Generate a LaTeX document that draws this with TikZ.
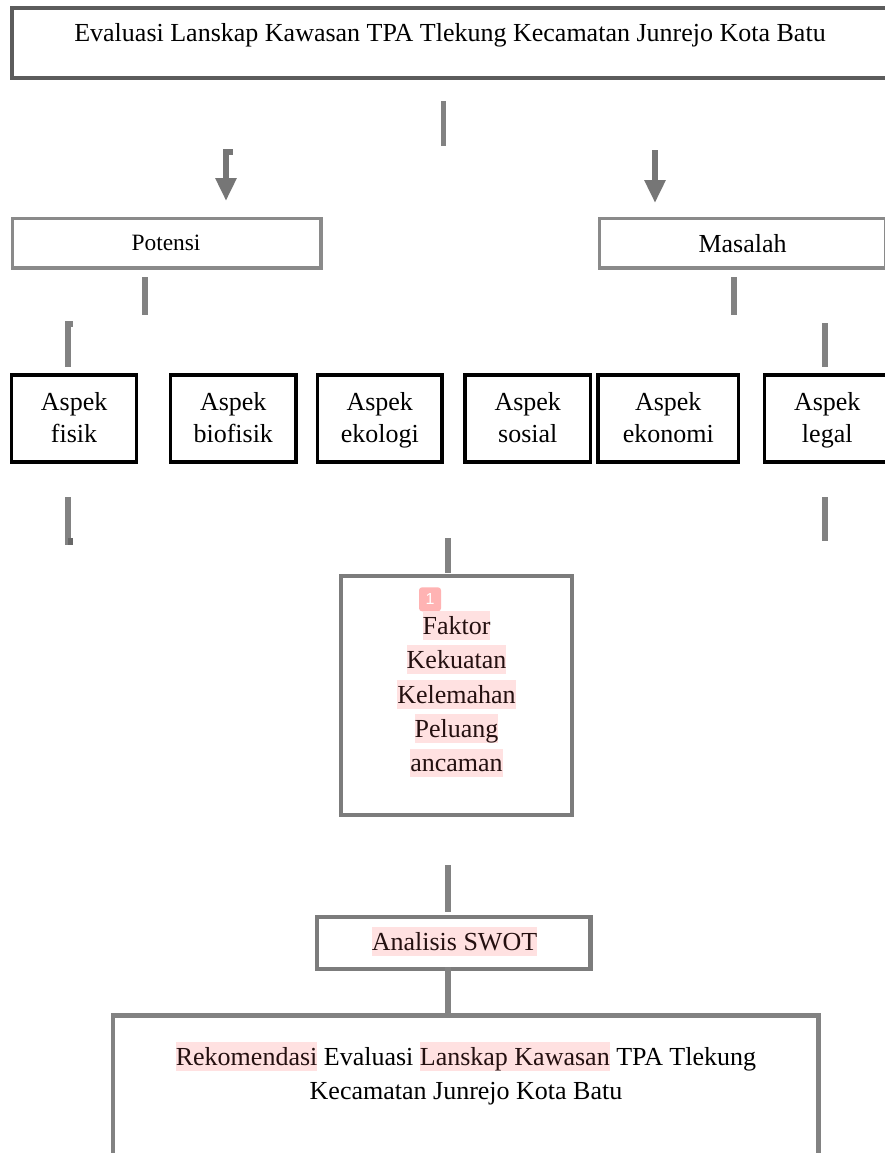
\documentclass[tikz,border=0pt]{standalone}
\usepackage{fontspec}
\setmainfont{Liberation Serif}
\newfontfamily\badgefont{Liberation Sans}
\usetikzlibrary{arrows.meta}
\definecolor{hlpink}{HTML}{FFE1E1}
\definecolor{badgepink}{HTML}{FFB3B3}
\definecolor{conn}{HTML}{828282}
\definecolor{arrowgray}{HTML}{767676}
\definecolor{topgray}{HTML}{5C5C5C}
\definecolor{boxgray}{HTML}{7C7C7C}
\definecolor{lightbox}{HTML}{8A8A8A}
\definecolor{hltext}{HTML}{241010}
\newcommand\hlt[1]{\begingroup\setlength{\fboxsep}{0pt}\colorbox{hlpink}{\rule[-0.216em]{0pt}{1.107em}\textcolor{hltext}{#1}}\endgroup}
\begin{document}
\begin{tikzpicture}[x=1pt,y=-1pt,
  txt/.style={inner sep=0pt,anchor=base,font=\fontsize{26}{32}\selectfont},
  topbox/.style={draw=topgray,line width=4pt,inner sep=0pt},
  pmbox/.style={draw=lightbox,line width=3.5pt,inner sep=0pt,minimum height=49.5pt},
  aspbox/.style={draw=black,line width=3.5pt,inner sep=0pt,minimum height=87pt},
  graybox/.style={draw=boxgray,line width=4.5pt,inner sep=0pt},
  connector/.style={draw=conn,line width=5.5pt},
  arrowconn/.style={draw=arrowgray,line width=6.5pt,-{Triangle[width=20pt,length=23pt]}},
  badge/.style={fill=badgepink,rounded corners=3pt,minimum width=22pt,minimum height=24pt,inner sep=0pt,text=white,font=\badgefont\fontsize{16}{18}\selectfont}
]
\fill[white] (0,0) rectangle (884,1153);
\useasboundingbox (0,0) rectangle (884,1153);

% boxes
\node[topbox,minimum width=878.3pt,minimum height=70pt] (top) at (450.85,43) {};
\node[txt] (toptext) at (450,42) {Evaluasi Lanskap Kawasan TPA Tlekung Kecamatan Junrejo Kota Batu};

\node[pmbox,minimum width=308.5pt] (potensi) at (166.75,243.25) {};
\node[txt,font=\fontsize{23.4}{28}\selectfont] (potensitext) at (166,250) {Potensi};
\node[pmbox,minimum width=286.5pt] (masalah) at (742.75,243.25) {};
\node[txt] (masalahtext) at (742.6,252.5) {Masalah};

\node[aspbox,minimum width=124.8pt] (fisik) at (74.1,418.5) {};
\node[aspbox,minimum width=125.5pt] (biofisik) at (233.25,418.5) {};
\node[aspbox,minimum width=124.5pt] (ekologi) at (379.75,418.5) {};
\node[aspbox,minimum width=125.5pt] (sosial) at (527.75,418.5) {};
\node[aspbox,minimum width=140.5pt] (ekonomi) at (668.25,418.5) {};
\node[aspbox,minimum width=125.5pt] (legal) at (827.25,418.5) {};
\foreach \n/\x/\w in {fisik/74.1/fisik,biofisik/233.25/biofisik,ekologi/379.75/ekologi,sosial/527.75/sosial,ekonomi/668.25/ekonomi,legal/827.25/legal}{
  \node[txt] (\n A) at (\x,410) {Aspek};
  \node[txt] (\n B) at (\x,442) {\w};
}

\node[graybox,minimum width=231pt,minimum height=239pt] (faktor) at (456.5,695.5) {};
\node[badge] (badge) at (430,599.3) {1};
\node[txt] (f1) at (456.5,634.2) {\hlt{Faktor}};
\node[txt] (f2) at (456.5,668.6) {\hlt{Kekuatan}};
\node[txt] (f3) at (456.5,703) {\hlt{Kelemahan}};
\node[txt] (f4) at (456.5,737.4) {\hlt{Peluang}};
\node[txt] (f5) at (456.5,771.8) {\hlt{ancaman}};

\node[graybox,minimum width=273.5pt,minimum height=52pt] (swot) at (453.75,943) {};
\node[txt] (swottext) at (454.5,950) {\hlt{Analisis SWOT}};

\node[graybox,draw=conn,minimum width=705.5pt,minimum height=200pt] (rekom) at (465.75,1115.5) {};
\node[txt] (r1) at (466,1065) {\hlt{Rekomendasi} Evaluasi \hlt{Lanskap Kawasan} TPA Tlekung};
\node[txt] (r2) at (466,1099) {Kecamatan Junrejo Kota Batu};

% connector end points
\coordinate (c1a) at (443.7,101.5); \coordinate (c1b) at (443.7,146);
\coordinate (la) at (226,149);  \coordinate (lb) at (226,201);
\coordinate (ra) at (655,150);  \coordinate (rb) at (655,203);
\coordinate (pa) at (145,277);  \coordinate (pb) at (145,315);
\coordinate (ma) at (734,277);  \coordinate (mb) at (734,315);
\coordinate (fua) at (68,321);  \coordinate (fub) at (68,367);
\coordinate (lua) at (825,323); \coordinate (lub) at (825,367);
\coordinate (fla) at (68,497);  \coordinate (flb) at (68,545);
\coordinate (lla) at (825,497); \coordinate (llb) at (825,541);
\coordinate (ka) at (448,538);  \coordinate (kb) at (448,573);
\coordinate (sa) at (448,865);  \coordinate (sb) at (448,912);
\coordinate (ta) at (448,967);  \coordinate (tb) at (448,1013);

\draw[connector] (c1a) -- (c1b);
\draw[arrowconn] (la) -- (lb);
\fill[arrowgray] (226,149) rectangle (233,155);
\draw[arrowconn] (ra) -- (rb);
\draw[connector] (pa) -- (pb);
\draw[connector] (ma) -- (mb);
\draw[connector] (fua) -- (fub);
\fill[conn] (68,321) rectangle (73,327);
\draw[connector] (lua) -- (lub);
\draw[connector] (fla) -- (flb);
\fill[conn!80!black] (68,538) rectangle (73,545);
\draw[connector] (lla) -- (llb);
\draw[connector] (ka) -- (kb);
\draw[connector] (sa) -- (sb);
\draw[connector] (ta) -- (tb);
\end{tikzpicture}
\end{document}
